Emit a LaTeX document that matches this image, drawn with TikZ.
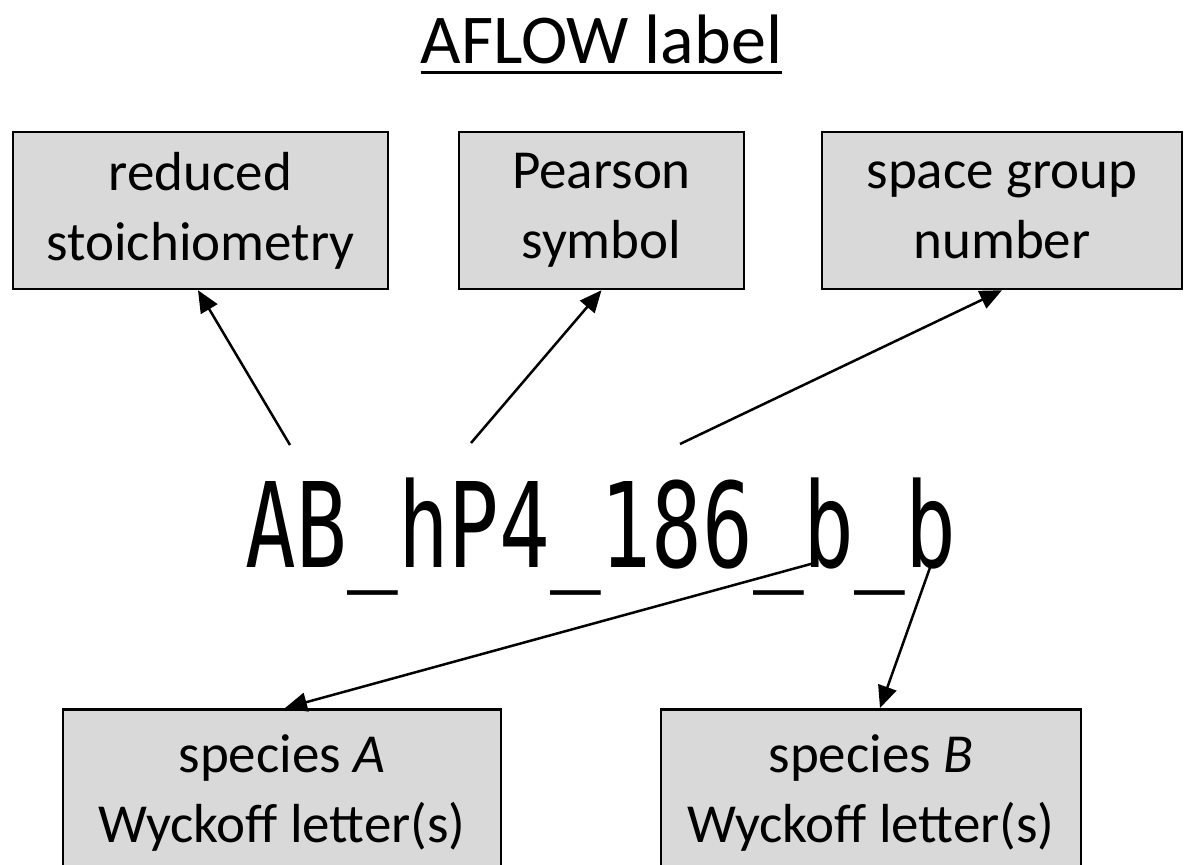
\documentclass[tikz,border=0pt]{standalone}
\usepackage{fontspec}
\setmainfont{Carlito}
\newfontfamily\codefont[FakeStretch=0.714]{DejaVu Sans Mono}
\usetikzlibrary{arrows.meta}
\definecolor{boxgray}{HTML}{D9D9D9}
\begin{document}
\begin{tikzpicture}[x=1pt,y=-1pt,
  infobox/.style={draw=black, line width=2.5pt, fill=boxgray, inner sep=0pt,
    align=center, font=\fontsize{55}{70}\selectfont},
  link/.style={line width=2.5pt, -{Triangle[length=22pt,width=19pt]}}]
\useasboundingbox (0,0) rectangle (1184,865);
\clip (0,0) rectangle (1184,865);

% title
\node[font=\fontsize{70}{84}\selectfont, inner sep=0pt, anchor=base] (title) at (601.5,63) {AFLOW label};
\draw[line width=3pt] ([yshift=-9.5pt]title.base west) -- ([yshift=-9.5pt]title.base east);

% upper boxes
\node[infobox, minimum width=375pt, minimum height=157pt] (red) at (200.5,210.5) {reduced\\stoichiometry};
\node[infobox, minimum width=285pt, minimum height=157pt] (pear) at (601.5,210.5) {Pearson\\symbol};
\node[infobox, minimum width=360pt, minimum height=157pt] (sg) at (1002,210.5) {space group\\number};

% the label itself
\node[font=\codefont\fontsize{118}{118}\selectfont, inner sep=0pt, anchor=base] (code) at (601,567) {AB\_hP4\_186\_b\_b};

% lower boxes
\node[infobox, minimum width=438pt, minimum height=167pt, anchor=north] (spA) at (282,708) {species \textit{A}\\Wyckoff letter(s)};
\node[infobox, minimum width=420pt, minimum height=167pt, anchor=north] (spB) at (871,708) {species \textit{B}\\Wyckoff letter(s)};

% arrow start points on the label
\coordinate (s1) at (290,445);
\coordinate (s2) at (471,443);
\coordinate (s3) at (680,444);
\coordinate (s4) at (818,562);
\coordinate (s5) at (932,562);

\draw[link] (s1) -- ([xshift=-2.5pt]red.south);
\draw[link] (s2) -- (pear.south);
\draw[link] (s3) -- (sg.south);
\draw[link] (s4) -- ([xshift=3pt]spA.north);
\draw[link] (s5) -- ([xshift=9pt]spB.north);
\end{tikzpicture}
\end{document}
